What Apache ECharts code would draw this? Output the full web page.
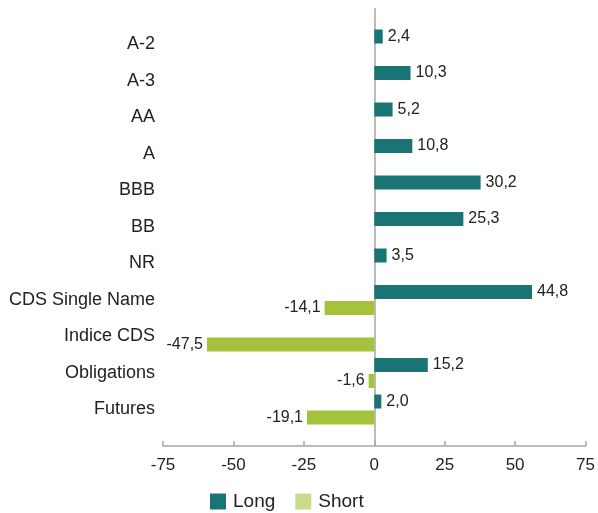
<!DOCTYPE html>
<html lang="en">
<head>
    <meta charset="UTF-8">
    <script type="text/javascript" src="https://cdn.jsdelivr.net/npm/echarts@6/dist/echarts.min.js"></script>
    <style>
        html, body { margin: 0; padding: 0; background: #fff; }
        #chart { width: 598px; height: 513px; }
    </style>
</head>
<body>
<div id="chart"></div>
<script type="text/javascript">
    // categories, top to bottom
    var categories = ['A-2', 'A-3', 'AA', 'A', 'BBB', 'BB', 'NR', 'CDS Single Name', 'Indice CDS', 'Obligations', 'Futures'];
    var longValues = [2.4, 10.3, 5.2, 10.8, 30.2, 25.3, 3.5, 44.8, null, 15.2, 2.0];
    var shortValues = [null, null, null, null, null, null, null, -14.1, -47.5, -1.6, -19.1];
    // the printed axis reads -75..75 while the bars sit on a -60..60 scale
    var tickLabels = ['-75', '-50', '-25', '0', '25', '50', '75'];

    var FONT = 'Liberation Sans, Arial, sans-serif';
    var GREY = '#a6a6a6';

    // one empty slot on each end gives the half band of space above and below
    function pad(arr) { return [null].concat(arr, [null]); }
    function fmt(p) { return p.value == null ? '' : p.value.toFixed(1).replace('.', ','); }

    var chart = echarts.init(document.getElementById('chart'));
    chart.setOption({
        animation: false,
        grid: { left: 163, right: 11, top: 8, bottom: 67 },
        legend: {
            left: 210, top: 492, padding: 0,
            icon: 'rect',
            itemWidth: 16, itemHeight: 16, itemGap: 20,
            textStyle: { fontFamily: FONT, fontSize: 19, color: '#222', padding: [0, 0, 0, 2] },
            data: [
                { name: 'Long', itemStyle: { color: '#1a7474' } },
                { name: 'Short', itemStyle: { color: '#c8dc8a' } }
            ]
        },
        xAxis: {
            type: 'value', min: -60, max: 60, interval: 20,
            axisLine: { show: true, lineStyle: { color: GREY, width: 1.5 } },
            axisTick: { show: true, inside: true, length: 5, lineStyle: { color: GREY, width: 1.5 } },
            axisLabel: {
                margin: 11, fontFamily: FONT, fontSize: 17, color: '#222',
                formatter: function (v) { return tickLabels[Math.round((v + 60) / 20)]; }
            },
            splitLine: {
                show: true,
                lineStyle: { width: 1.5, color: ['transparent', 'transparent', 'transparent', GREY, 'transparent', 'transparent', 'transparent'] }
            }
        },
        yAxis: {
            type: 'category', inverse: true, boundaryGap: false,
            data: [''].concat(categories, ['']),
            axisLine: { show: false, onZero: false },
            axisTick: { show: false },
            axisLabel: { margin: 8, fontFamily: FONT, fontSize: 18, color: '#222', interval: 0 }
        },
        series: [
            {
                name: 'Long', type: 'bar', data: pad(longValues),
                barWidth: 14, barGap: '14%',
                itemStyle: { color: '#1a7474' },
                label: { show: true, position: 'right', distance: 5, fontFamily: FONT, fontSize: 16, color: '#222', formatter: fmt }
            },
            {
                name: 'Short', type: 'bar', data: pad(shortValues),
                barWidth: 14,
                itemStyle: { color: '#a4c23c' },
                label: { show: true, position: 'left', distance: 4, fontFamily: FONT, fontSize: 16, color: '#222', formatter: fmt }
            }
        ]
    });
</script>
</body>
</html>
